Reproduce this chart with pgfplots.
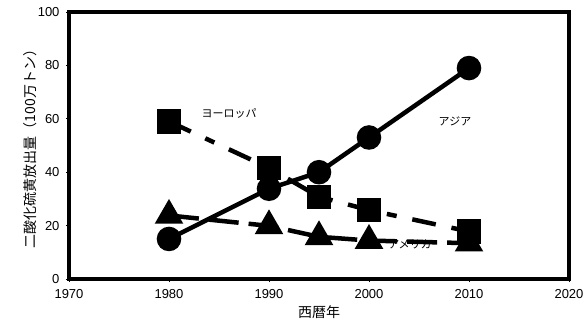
\documentclass[border=0pt]{standalone}
\usepackage{pgfplots}
\pgfplotsset{compat=1.18}
\usepackage{fontspec}
\setmainfont{Liberation Sans}
\newfontfamily\jp{Noto Sans CJK JP}
\begin{document}
\begin{tikzpicture}[x=1pt,y=1pt]
\begin{axis}[
  scale only axis, width=500pt, height=267pt,
  xmin=1970, xmax=2020, ymin=0, ymax=100,
  xtick={1970,1980,...,2020}, ytick={0,20,...,100},
  /pgf/number format/1000 sep={},
  /pgf/number format/assume math mode=true,
  tick label style={font=\fontsize{13}{13}\selectfont},
  xticklabel style={yshift=-4pt},
  yticklabel style={xshift=-3pt},
  tick align=outside, major tick length=3pt,
  tick style={black, line width=0.8pt},
  xtick pos=bottom, ytick pos=left,
  axis line style={line width=4.5pt},
  xlabel={\jp 西暦年}, ylabel={\jp 二酸化硫黄放出量（100万トン）},
  label style={font=\fontsize{14}{14}\selectfont},
  xlabel style={yshift=0pt},
  ylabel style={yshift=-6pt},
  clip=false,
]
\addplot[black, line width=4.5pt, mark=*, mark size=10pt, mark options={solid}] coordinates {
 (1980,15) (1990,33.8) (1995,40) (2000,53) (2010,79)};
\addplot[black, line width=4.5pt, dash pattern=on 24pt off 16pt on 10pt off 16pt, mark=square*, mark size=10pt, mark options={solid}] coordinates {
 (1980,59) (1990,41.6) (1995,30.8) (2000,25.8) (2010,17.8)};
\addplot[black, line width=4.5pt, dash pattern=on 30pt off 10pt, mark=triangle*, mark size=12pt, mark options={solid}] coordinates {
 (1980,23.8) (1990,19.9) (1995,15.8) (2000,14.4) (2010,13.4)};
\node[font=\jp\fontsize{11}{11}\selectfont] at (axis cs:1986,62) {ヨーロッパ};
\node[font=\jp\fontsize{11}{11}\selectfont] at (axis cs:2008.6,59) {アジア};
\node[font=\jp\fontsize{11}{11}\selectfont] at (axis cs:2004.1,13) {アメリカ};
\end{axis}
\pgfresetboundingbox
\path (-69pt,-54pt) rectangle (518pt,279pt);
\end{tikzpicture}
\end{document}
